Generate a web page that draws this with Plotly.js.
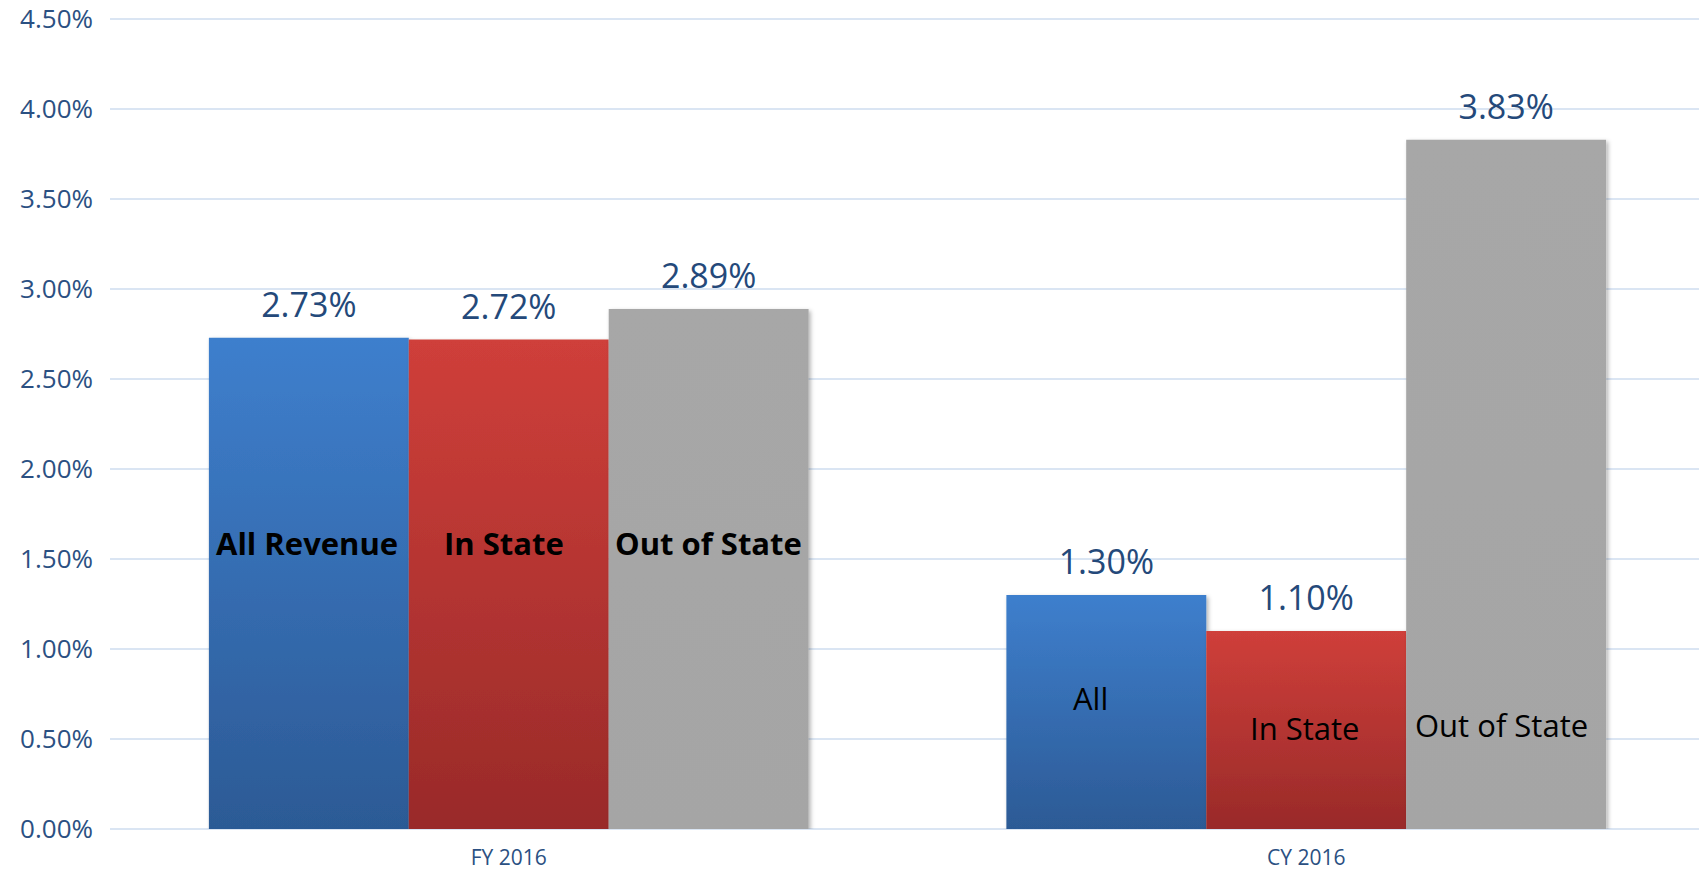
<!DOCTYPE html>
<html><head><meta charset="utf-8">
<script src="https://cdn.plot.ly/plotly-3.0.1.min.js"></script>
<style>html,body{margin:0;padding:0;background:#fff;} #chart{width:1699px;height:872px;}</style>
</head><body><div id="chart"></div>
<script>
// ---- data ----
const categories = ['FY 2016', 'CY 2016'];
const seriesNames = ['All', 'In State', 'Out of State'];
const allRevenue = [2.73, 1.30];
const inState = [2.72, 1.10];
const outOfState = [2.89, 3.83];
const yTickVals = [0, 0.5, 1, 1.5, 2, 2.5, 3, 3.5, 4, 4.5];
const yTickText = ['0.00%', '0.50%', '1.00%', '1.50%', '2.00%', '2.50%', '3.00%', '3.50%', '4.00%', '4.50%'];
const fyInnerLabels = ['All Revenue', 'In State', 'Out of State'];
const cyInnerLabels = ['All', 'In State', 'Out of State'];

// ---- styling / placement ----
const seriesValues = [allRevenue, inState, outOfState];
const baseColors = ['#3469AE', '#B93533', '#A6A6A6'];
const gradStops = [['#3E7FCD', '#2C5A95'], ['#CF3F3A', '#992A29'], ['#A7A7A7', '#A5A5A5']];
const bargap = 0.248;
const slot = (1 - bargap) / 3;
const valueColor = '#24497A';
const tickColor = '#2B5082';
const gridColor = '#DAE5F3';
const font = 'Open Sans, Noto Sans, sans-serif';
// inner label placement (y in axis units, xshift in px)
const innerPlacement = [
  {labels: fyInnerLabels, y: [1.59, 1.59, 1.59], xshift: [-2, -5, 0], bold: true},
  {labels: cyInnerLabels, y: [0.73, 0.56, 0.58], xshift: [-16, -2, -5], bold: false}
];

const data = [];
seriesValues.forEach((vals, k) => {
  data.push({
    type: 'bar', name: seriesNames[k], x: categories, y: vals,
    marker: {color: baseColors[k], line: {width: 0}},
    hoverinfo: 'skip', showlegend: false
  });
});
seriesValues.forEach((vals, k) => {
  data.push({
    type: 'scatter', mode: 'markers+text', x: categories, y: vals,
    marker: {size: 18, color: 'rgba(0,0,0,0)'},
    texttemplate: '%{y:.2f}%', textposition: 'top center',
    textfont: {family: font, size: 34, color: valueColor},
    cliponaxis: false, hoverinfo: 'skip', showlegend: false
  });
});

const annotations = [];
innerPlacement.forEach((g, ci) => {
  g.labels.forEach((txt, k) => {
    annotations.push({
      xref: 'x', yref: 'y', x: ci + (k - 1) * slot, y: g.y[k],
      xshift: g.xshift[k], text: txt, showarrow: false,
      xanchor: 'center', yanchor: 'middle',
      font: {family: font, size: 31, color: '#000', weight: g.bold ? 'bold' : 'normal'}
    });
  });
});

const layout = {
  width: 1699, height: 872,
  margin: {l: 110, r: 0, t: 18, b: 43, pad: 0},
  paper_bgcolor: '#fff', plot_bgcolor: '#fff',
  barmode: 'group', bargap: bargap, bargroupgap: 0,
  scattermode: 'group', scattergap: bargap,
  showlegend: false,
  xaxis: {
    type: 'category', range: [-0.5, 1.4925], showgrid: false, zeroline: false,
    showline: false, ticks: '', ticklabelstandoff: 14,
    tickfont: {family: font, size: 21, color: tickColor}, fixedrange: true
  },
  yaxis: {
    range: [0, 4.507], tickmode: 'array', tickvals: yTickVals, ticktext: yTickText,
    showgrid: true, gridcolor: gridColor, gridwidth: 2,
    zeroline: true, zerolinecolor: gridColor, zerolinewidth: 2,
    showline: false, ticks: '', ticklabelstandoff: 16,
    tickfont: {family: font, size: 26, color: tickColor}, fixedrange: true
  },
  annotations: annotations,
  font: {family: font}
};

Plotly.newPlot('chart', data, layout, {staticPlot: true, displayModeBar: false}).then(gd => {
  const svg = gd.querySelector('svg.main-svg');
  const NS = 'http://www.w3.org/2000/svg';
  let defs = svg.querySelector('defs');
  if (!defs) { defs = document.createElementNS(NS, 'defs'); svg.insertBefore(defs, svg.firstChild); }
  gradStops.forEach((st, i) => {
    const lg = document.createElementNS(NS, 'linearGradient');
    lg.setAttribute('id', 'barGrad' + i);
    lg.setAttribute('x1', '0'); lg.setAttribute('y1', '0');
    lg.setAttribute('x2', '0'); lg.setAttribute('y2', '1');
    [[0, st[0]], [1, st[1]]].forEach(([o, c]) => {
      const s = document.createElementNS(NS, 'stop');
      s.setAttribute('offset', o); s.setAttribute('stop-color', c);
      lg.appendChild(s);
    });
    defs.appendChild(lg);
  });
  const f = document.createElementNS(NS, 'filter');
  f.setAttribute('id', 'barShadow');
  f.setAttribute('x', '-10%'); f.setAttribute('y', '-10%');
  f.setAttribute('width', '130%'); f.setAttribute('height', '130%');
  const ds = document.createElementNS(NS, 'feDropShadow');
  ds.setAttribute('dx', '2'); ds.setAttribute('dy', '2');
  ds.setAttribute('stdDeviation', '2');
  ds.setAttribute('flood-color', '#000'); ds.setAttribute('flood-opacity', '0.3');
  f.appendChild(ds); defs.appendChild(f);
  gd.querySelectorAll('.barlayer .trace').forEach((t, i) => {
    t.querySelectorAll('path').forEach(p => {
      p.style.fill = 'url(#barGrad' + i + ')';
      p.setAttribute('filter', 'url(#barShadow)');
    });
  });
});
</script>
</body></html>
